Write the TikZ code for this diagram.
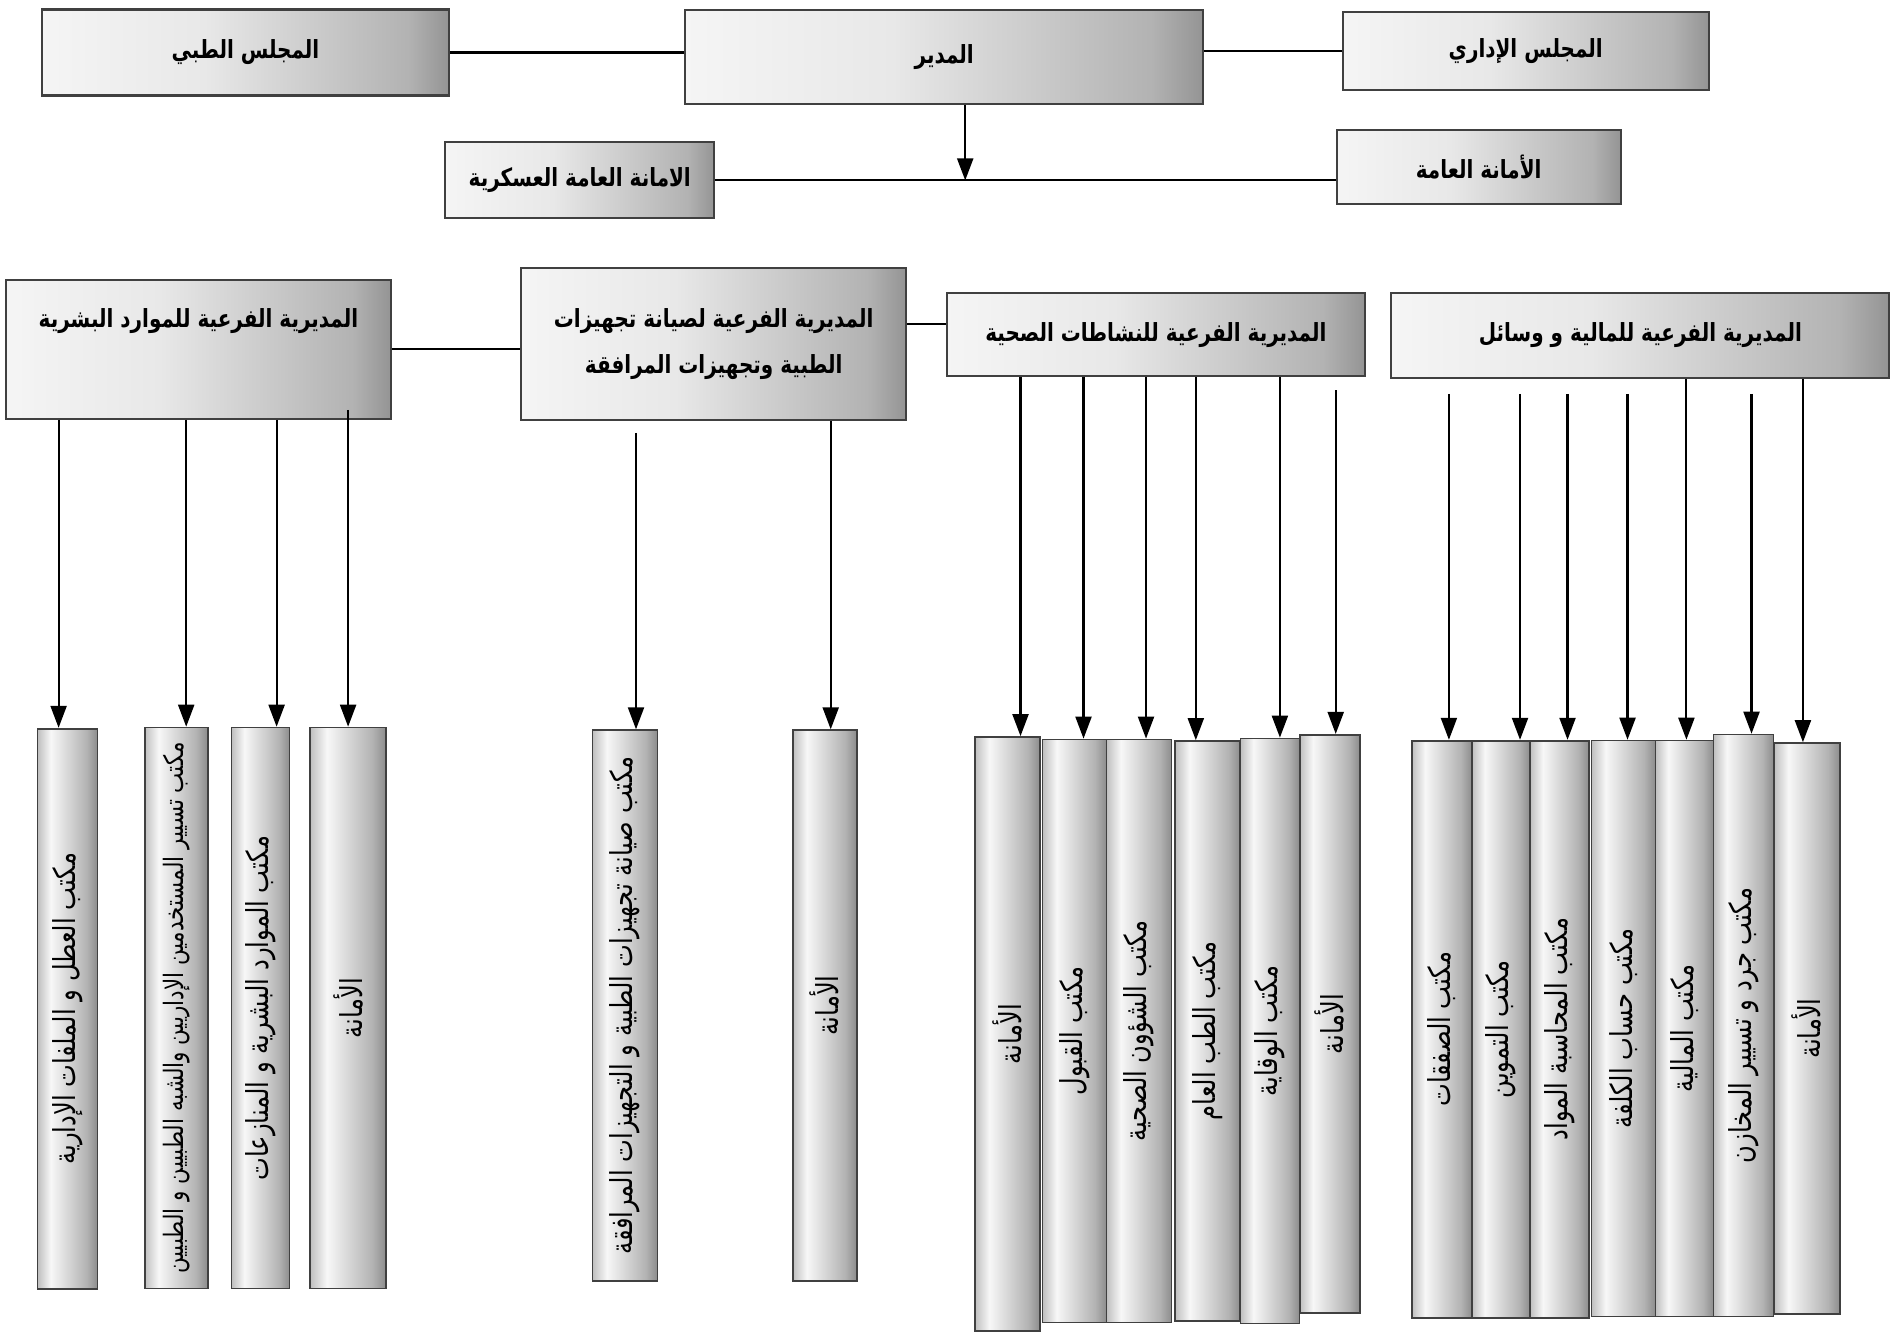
\documentclass[tikz,border=0pt]{standalone}
\usepackage{fontspec}
\newfontfamily\arabicfont[Script=Arabic, FakeStretch=0.8]{DejaVu Sans}
\TeXXeTstate=1
\usetikzlibrary{arrows.meta,calc,positioning}
\newcommand{\artxt}[1]{{\arabicfont\beginR #1\endR}}
\pgfdeclarehorizontalshading{boxshade}{100bp}{color(0bp)=(black!4); color(25bp)=(black!4); color(45bp)=(black!9); color(70bp)=(black!30); color(75bp)=(black!42); color(100bp)=(black!42)}
\pgfdeclarehorizontalshading{colshade}{100bp}{color(0bp)=(black!25); color(25bp)=(black!25); color(36bp)=(black!3); color(66bp)=(black!30); color(75bp)=(black!45); color(100bp)=(black!45)}
\tikzset{
  unit/.style={draw=black!75, line width=0.6pt, shade, shading=boxshade, inner sep=2pt, align=center, font=\bfseries\fontsize{7.1}{13}\selectfont},
  office/.style={draw=black!75, line width=0.5pt, shade, shading=colshade, inner sep=0pt, font=\fontsize{8.6}{10}\selectfont},
  link/.style={line width=0.6pt},
}

\begin{document}
\begin{tikzpicture}[>={Triangle[length=2.2mm,width=1.6mm]}]
                \useasboundingbox (0,0) rectangle (18.92,13.33);
                \node[unit, minimum width=4.07cm, minimum height=0.86cm] (medb) at (2.455,12.805) {\artxt{المجلس الطبي}};
                \node[unit, minimum width=5.18cm, minimum height=0.94cm] (dir) at (9.442,12.763) {\artxt{المدير}};
                \node[unit, minimum width=3.66cm, minimum height=0.78cm] (admb) at (15.257,12.817) {\artxt{المجلس الإداري}};
                \node[unit, minimum width=2.69cm, minimum height=0.76cm] (secm) at (5.798,11.526) {\artxt{الامانة العامة العسكرية}};
                \node[unit, minimum width=2.84cm, minimum height=0.74cm] (secg) at (14.787,11.659) {\artxt{الأمانة العامة}};
                \draw[link] (medb.east) -- (medb.east -| dir.west);
                \draw[link] (admb.west -| dir.east) -- (admb.west);
                \draw[link] (secm.east) -- (secm.east -| secg.west);
                \coordinate (jn) at ([xshift=2.1mm]dir.south |- secm.east);
                \draw[->, link] ([xshift=2.1mm]dir.south) -- (jn);
                \node[unit, minimum width=3.85cm, minimum height=1.39cm, text depth=0.62cm] (hr) at (1.985,9.837) {\artxt{المديرية الفرعية للموارد البشرية}};
                \node[unit, minimum width=3.85cm, minimum height=1.52cm] (mnt) at (7.137,9.891) {\artxt{المديرية الفرعية لصيانة تجهيزات}\\ \artxt{الطبية وتجهيزات المرافقة}};
                \node[unit, minimum width=4.18cm, minimum height=0.83cm] (hlt) at (11.559,9.982) {\artxt{المديرية الفرعية للنشاطات الصحية}};
                \node[unit, minimum width=4.98cm, minimum height=0.85cm] (fin) at (16.404,9.976) {\artxt{المديرية الفرعية للمالية و وسائل}};
                \draw[link] (hr.east) -- (hr.east -| mnt.west);
                \draw[link] ([yshift=1.1mm]hlt.west -| mnt.east) -- ([yshift=1.1mm]hlt.west);
                \node[office, minimum width=0.60cm, minimum height=5.60cm] (ca) at (0.676,3.243) {\rotatebox{90}{\artxt{مكتب العطل و الملفات الإدارية}}};
                \node[office, minimum width=0.63cm, minimum height=5.61cm, font=\fontsize{7.6}{9}\selectfont] (cb) at (1.762,3.249) {\rotatebox{90}{\artxt{مكتب تسيير المستخدمين الإداريين والشبه الطبيين و الطبيين}}};
                \node[office, minimum width=0.58cm, minimum height=5.61cm] (cc) at (2.606,3.249) {\rotatebox{90}{\artxt{مكتب الموارد البشرية و المنازعات}}};
                \node[office, minimum width=0.76cm, minimum height=5.61cm] (cd) at (3.481,3.249) {\rotatebox{90}{\artxt{الأمانة}}};
                \node[office, minimum width=0.65cm, minimum height=5.51cm] (ce) at (6.250,3.273) {\rotatebox{90}{\artxt{مكتب صيانة تجهيزات الطبية و التجهيزات المرافقة}}};
                \node[office, minimum width=0.64cm, minimum height=5.51cm] (cf) at (8.247,3.273) {\rotatebox{90}{\artxt{الأمانة}}};
                \node[office, minimum width=0.65cm, minimum height=5.94cm] (cg) at (10.075,2.990) {\rotatebox{90}{\artxt{الأمانة}}};
                \node[office, minimum width=0.64cm, minimum height=5.83cm] (ch) at (10.745,3.020) {\rotatebox{90}{\artxt{مكتب القبول}}};
                \node[office, minimum width=0.65cm, minimum height=5.83cm] (ci) at (11.390,3.020) {\rotatebox{90}{\artxt{مكتب الشؤون الصحية}}};
                \node[office, minimum width=0.65cm, minimum height=5.80cm] (cj) at (12.078,3.020) {\rotatebox{90}{\artxt{مكتب الطب العام}}};
                \node[office, minimum width=0.59cm, minimum height=5.85cm] (ck) at (12.699,3.020) {\rotatebox{90}{\artxt{مكتب الوقاية}}};
                \node[office, minimum width=0.60cm, minimum height=5.78cm] (cl) at (13.297,3.092) {\rotatebox{90}{\artxt{الأمانة}}};
                \node[office, minimum width=0.60cm, minimum height=5.77cm] (cm) at (14.419,3.038) {\rotatebox{90}{\artxt{مكتب الصفقات}}};
                \node[office, minimum width=0.58cm, minimum height=5.77cm] (cn) at (15.010,3.038) {\rotatebox{90}{\artxt{مكتب التموين}}};
                \node[office, minimum width=0.59cm, minimum height=5.77cm] (co) at (15.595,3.038) {\rotatebox{90}{\artxt{مكتب المحاسبة المواد}}};
                \node[office, minimum width=0.64cm, minimum height=5.76cm] (cp) at (16.235,3.044) {\rotatebox{90}{\artxt{مكتب حساب الكلفة}}};
                \node[office, minimum width=0.58cm, minimum height=5.76cm] (cq) at (16.844,3.044) {\rotatebox{90}{\artxt{مكتب المالية}}};
                \node[office, minimum width=0.60cm, minimum height=5.82cm] (cr) at (17.435,3.074) {\rotatebox{90}{\artxt{مكتب جرد و تسيير المخازن}}};
                \node[office, minimum width=0.66cm, minimum height=5.71cm] (cs) at (18.069,3.044) {\rotatebox{90}{\artxt{الأمانة}}};
                \draw[->, link] ([xshift=-0.9mm]hr.south -| ca.north) -- ([xshift=-0.9mm]ca.north);
                \draw[->, link] ([xshift=1.0mm]hr.south -| cb.north) -- ([xshift=1.0mm]cb.north);
                \draw[->, link] ([xshift=1.6mm]hr.south -| cc.north) -- ([xshift=1.6mm]cc.north);
                \draw[->, link] ([yshift=1mm]hr.south -| cd.north) -- (cd.north);
                \draw[->, link] ([xshift=1.1mm,yshift=-1.2mm]mnt.south -| ce.north) -- ([xshift=1.1mm]ce.north);
                \draw[->, link] ([xshift=0.6mm]mnt.south -| cf.north) -- ([xshift=0.6mm]cf.north);
                \draw[->, link] ([xshift=1.3mm]hlt.south -| cg.north) -- ([xshift=1.3mm]cg.north);
                \draw[->, link] ([xshift=0.9mm]hlt.south -| ch.north) -- ([xshift=0.9mm]ch.north);
                \draw[->, link] ([xshift=0.7mm]hlt.south -| ci.north) -- ([xshift=0.7mm]ci.north);
                \draw[->, link] ([xshift=-1.2mm]hlt.south -| cj.north) -- ([xshift=-1.2mm]cj.north);
                \draw[->, link] ([xshift=1.0mm]hlt.south -| ck.north) -- ([xshift=1.0mm]ck.north);
                \draw[->, link] ([xshift=0.6mm,yshift=-1.3mm]hlt.south -| cl.north) -- ([xshift=0.6mm]cl.north);
                \draw[->, link] ([xshift=0.7mm,yshift=-1.5mm]fin.south -| cm.north) -- ([xshift=0.7mm]cm.north);
                \draw[->, link] ([xshift=1.9mm,yshift=-1.5mm]fin.south -| cn.north) -- ([xshift=1.9mm]cn.north);
                \draw[->, link] ([xshift=0.8mm,yshift=-1.5mm]fin.south -| co.north) -- ([xshift=0.8mm]co.north);
                \draw[->, link] ([xshift=0.4mm,yshift=-1.5mm]fin.south -| cp.north) -- ([xshift=0.4mm]cp.north);
                \draw[->, link] ([xshift=0.2mm]fin.south -| cq.north) -- ([xshift=0.2mm]cq.north);
                \draw[->, link] ([xshift=0.8mm,yshift=-1.5mm]fin.south -| cr.north) -- ([xshift=0.8mm]cr.north);
                \draw[->, link] ([xshift=-0.4mm]fin.south -| cs.north) -- ([xshift=-0.4mm]cs.north);
            \end{tikzpicture}
\end{document}
